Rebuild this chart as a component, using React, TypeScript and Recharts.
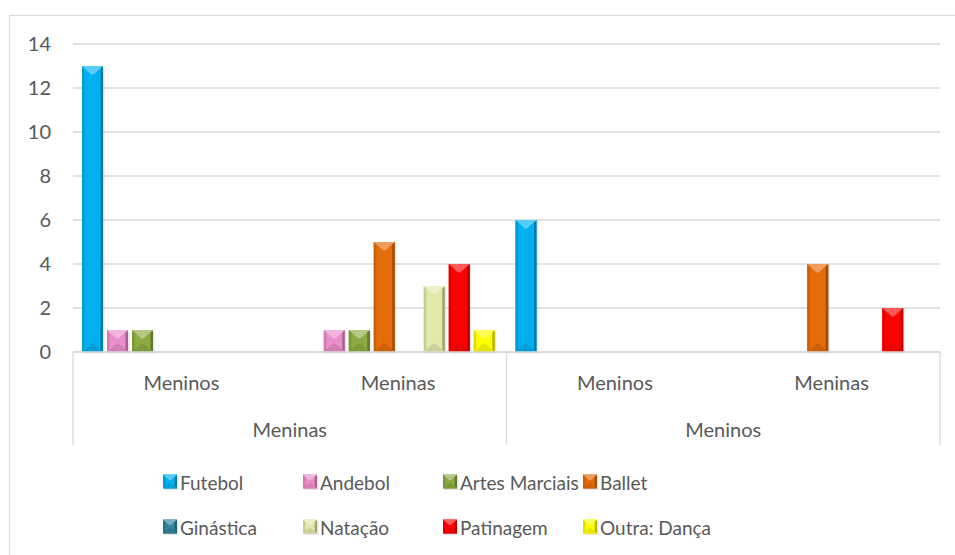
import React from "react";
import { BarChart, Bar, XAxis, YAxis, CartesianGrid } from "recharts";

// categories (two-level axis)
const subGroups = ["Meninos", "Meninas", "Meninos", "Meninas"];
const groups = ["Meninas", "Meninas", "Meninos", "Meninos"];

// series
const seriesNames = ["Futebol", "Andebol", "Artes Marciais", "Ballet", "Ginástica", "Natação", "Patinagem", "Outra: Dança"];
const seriesKeys = ["futebol", "andebol", "artes", "ballet", "ginastica", "natacao", "patinagem", "outra"];
const seriesColors = ["#00B0F0", "#EA8DCA", "#8CAB42", "#E46C0A", "#31859C", "#E2E8A8", "#FF0000", "#FFFF00"];

const futebol = [13, 0, 6, 0];
const andebol = [1, 1, 0, 0];
const artes = [1, 1, 0, 0];
const ballet = [0, 5, 0, 4];
const ginastica = [0, 0, 0, 0];
const natacao = [0, 3, 0, 0];
const patinagem = [0, 4, 0, 2];
const outra = [0, 1, 0, 0];

const yTicks = [0, 2, 4, 6, 8, 10, 12, 14];

const values: Record<string, number[]> = { futebol, andebol, artes, ballet, ginastica, natacao, patinagem, outra };

const data = subGroups.map((sub, i) => {
  const row: any = { sub, grp: groups[i] };
  seriesKeys.forEach((k) => (row[k] = values[k][i]));
  return row;
});

// layout
const W = 955;
const H = 470;
const M_TOP = 44;
const M_RIGHT = 15;
const Y_W = 73;
const X1_H = 55;
const X2_H = 45;
const M_BOTTOM = 18;
const PLOT_W = W - Y_W - M_RIGHT;
const PLOT_BOTTOM = H - M_BOTTOM - X1_H - X2_H;
const SEP_BOTTOM = 445;
const TEXT = "#595959";
const GRID = "#D9D9D9";
const FONT = "Lato, 'Open Sans', sans-serif";

function mix(hex: string, to: number, amt: number) {
  const n = parseInt(hex.slice(1), 16);
  const c = [(n >> 16) & 255, (n >> 8) & 255, n & 255].map((v) => Math.round(v + (to - v) * amt));
  return `rgb(${c[0]},${c[1]},${c[2]})`;
}

function Bevel({ x, y, w, h, color }: { x: number; y: number; w: number; h: number; color: string }) {
  const s = Math.min(2.5, w / 6);
  const d = Math.min(w * 0.4, h / 2);
  const cx = x + w / 2;
  return (
    <g>
      <rect x={x + 1.5} y={y + 1.5} width={w} height={h} fill="#000" opacity={0.1} />
      <rect x={x} y={y} width={w} height={h} fill={color} />
      <polygon points={`${x},${y} ${x + s},${y + s} ${x + s},${y + h - s} ${x},${y + h}`} fill={mix(color, 0, 0.12)} />
      <polygon points={`${x + w},${y} ${x + w - s},${y + s} ${x + w - s},${y + h - s} ${x + w},${y + h}`} fill={mix(color, 0, 0.3)} />
      <polygon points={`${x},${y} ${x + w},${y} ${cx + 1},${y + d} ${cx - 1},${y + d}`} fill={mix(color, 255, 0.35)} />
      <polygon points={`${x},${y + h} ${x + w},${y + h} ${cx + 1},${y + h - d} ${cx - 1},${y + h - d}`} fill={mix(color, 0, 0.1)} />
    </g>
  );
}

const BarShape = (props: any) => {
  const { x, y, width, height, fill } = props;
  if (!height || height <= 0) return <g />;
  return <Bevel x={x} y={y} w={width} h={height} color={fill} />;
};

const GroupTick = (props: any) => {
  const { x, y, payload, index } = props;
  const half = PLOT_W / 4;
  return (
    <g>
      <line x1={x - half} x2={x - half} y1={PLOT_BOTTOM} y2={SEP_BOTTOM} stroke={GRID} strokeWidth={1.3} />
      {index === 1 && <line x1={x + half} x2={x + half} y1={PLOT_BOTTOM} y2={SEP_BOTTOM} stroke={GRID} strokeWidth={1.3} />}
      <text x={x} y={y} dy="0.71em" textAnchor="middle" fill={TEXT} fontSize={20} fontFamily={FONT}>
        {payload.value}
      </text>
    </g>
  );
};

const legendCols = [163, 303, 443, 583];
const legendRows = [482, 527];

export default function App() {
  return (
    <div style={{ position: "fixed", left: 0, top: 0, width: W, height: 555, overflow: "hidden", background: "#fff" }}>
      <div style={{ position: "absolute", left: 9, top: 15, width: 1000, height: 1000, border: `1px solid ${GRID}`, boxSizing: "border-box" }} />
      <div style={{ position: "absolute", left: 0, top: 0 }}>
        <BarChart
          width={W}
          height={H}
          data={data}
          margin={{ top: M_TOP, right: M_RIGHT, left: 0, bottom: M_BOTTOM }}
          barCategoryGap={9}
          barGap={4}
        >
          <CartesianGrid vertical={false} stroke={GRID} strokeWidth={1.3} />
          <XAxis
            dataKey="sub"
            height={X1_H}
            tickLine={false}
            tickSize={0}
            tickMargin={24}
            axisLine={{ stroke: GRID, strokeWidth: 1.3 }}
            tick={{ fill: TEXT, fontSize: 20, fontFamily: FONT }}
            interval={0}
          />
          <XAxis
            xAxisId="grp"
            dataKey="grp"
            allowDuplicatedCategory={false}
            height={X2_H}
            tickLine={false}
            tickSize={0}
            tickMargin={16}
            axisLine={false}
            tick={<GroupTick />}
            interval={0}
          />
          <YAxis
            width={Y_W}
            domain={[0, 14]}
            ticks={yTicks}
            axisLine={false}
            tickLine={false}
            tickSize={0}
            tickMargin={22}
            tick={{ fill: TEXT, fontSize: 20, fontFamily: FONT }}
          />
          {seriesKeys.map((k, i) => (
            <Bar key={k} dataKey={k} name={seriesNames[i]} fill={seriesColors[i]} shape={<BarShape />} isAnimationActive={false} />
          ))}
        </BarChart>
      </div>
      {seriesNames.map((name, i) => {
        const left = legendCols[i % 4];
        const cy = legendRows[Math.floor(i / 4)];
        return (
          <div key={name} style={{ position: "absolute", left, top: cy - 12, height: 24, display: "flex", alignItems: "center", whiteSpace: "nowrap" }}>
            <svg width={16} height={16} style={{ display: "block" }}>
              <Bevel x={0} y={0.5} w={14} h={14} color={seriesColors[i]} />
            </svg>
            <span style={{ marginLeft: 1, fontFamily: FONT, fontSize: 19, color: TEXT }}>{name}</span>
          </div>
        );
      })}
    </div>
  );
}
